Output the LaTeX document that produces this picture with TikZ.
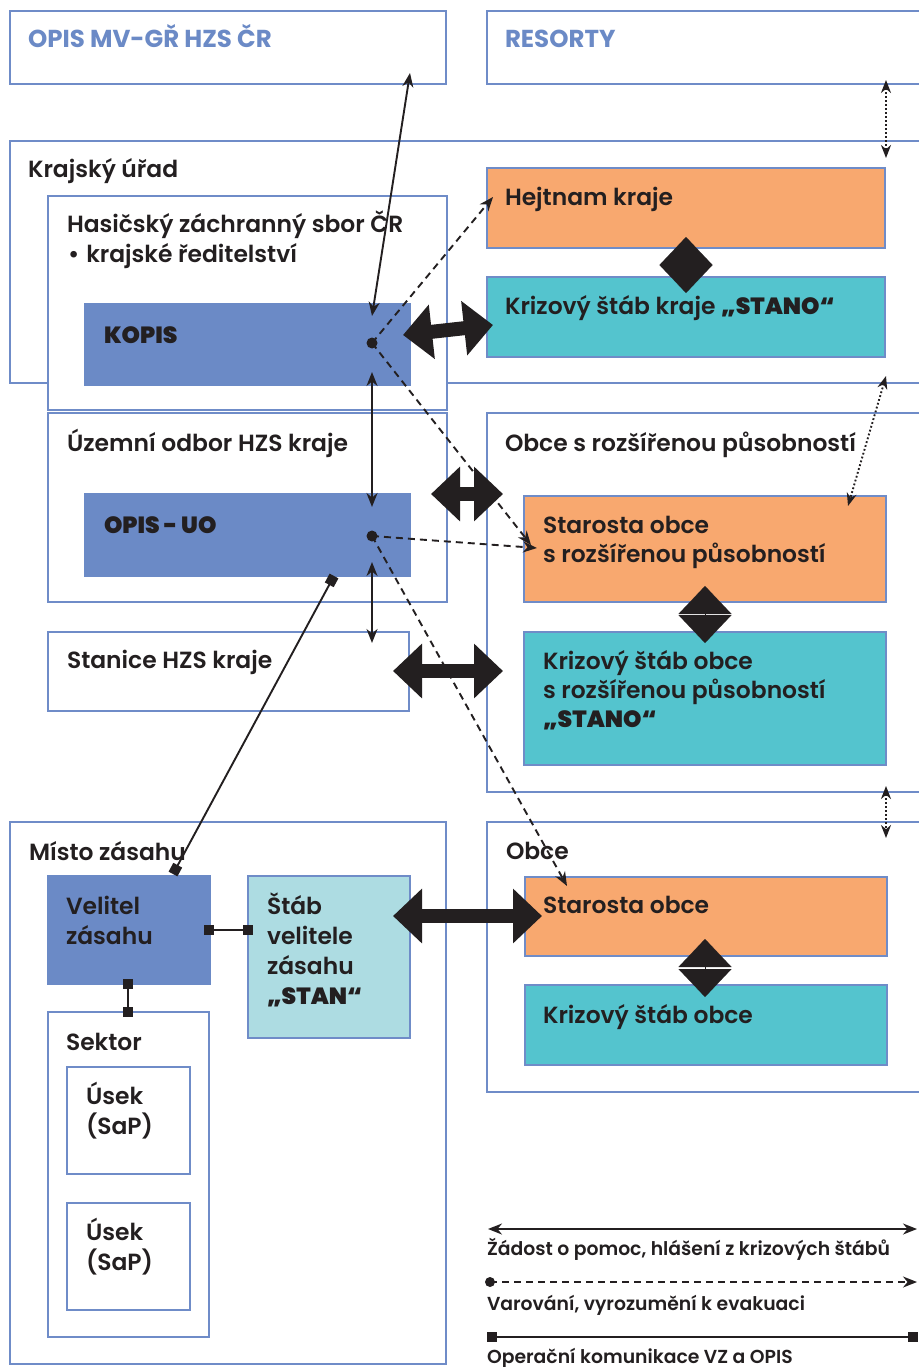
\documentclass[tikz,border=0pt]{standalone}
\usepackage{fontspec}
\IfFontExistsTF{Poppins SemiBold}{\setmainfont{Poppins}[BoldFont={Poppins SemiBold}]}{\setmainfont{Poppins}}
\IfFontExistsTF{Poppins ExtraBold}{\newfontfamily\heavyf{Poppins ExtraBold}}{\newfontfamily\heavyf{Poppins}[UprightFont={* Bold}]}
\IfFontExistsTF{Poppins Bold}{\newfontfamily\headf{Poppins Bold}}{\newcommand\headf{\bfseries}}
\usetikzlibrary{arrows.meta}
\definecolor{bblue}{HTML}{6F8CC8}
\definecolor{kblue}{HTML}{6B8AC6}
\definecolor{orng}{HTML}{F8A86F}
\definecolor{teal}{HTML}{54C4CE}
\definecolor{lcyan}{HTML}{ADDCE2}
\definecolor{dk}{HTML}{231F20}
\newcommand\bx[6]{\node[#2, minimum width={(#5-#3)*1pt}, minimum height={(#6-#4)*1pt}] (#1) at (#3,#4) {};}
\newcommand\vl[2]{\vtop{\baselineskip=#1\lineskiplimit=-100pt\relax #2}}
\tikzset{
  boxw/.style={draw=bblue, line width=2.5pt, fill=white, inner sep=0pt, outer sep=0pt, anchor=north west},
  boxb/.style={boxw, fill=kblue, draw=kblue},
  boxo/.style={boxw, fill=orng},
  boxt/.style={boxw, fill=teal},
  boxc/.style={boxw, fill=lcyan},
  txt/.style={anchor=base west, inner sep=0pt, outer sep=0pt, text=dk, font=\fontsize{23.4}{29}\selectfont\bfseries},
  htxt/.style={txt, text=kblue, font=\fontsize{24.5}{29}\selectfont\headf},
  lgd/.style={txt, font=\fontsize{18.8}{20}\selectfont\bfseries},
  thinarr/.style={draw=dk, line width=1.9pt, {Stealth[length=14pt,width=11pt]}-{Stealth[length=14pt,width=11pt]}},
  warn/.style={draw=dk, line width=1.9pt, dash pattern=on 7pt off 5pt, -{Stealth[length=14pt,width=11pt]}},
  dotarr/.style={draw=dk, line width=1.9pt, dash pattern=on 1.8pt off 2.2pt, {Stealth[length=13pt,width=10pt]}-{Stealth[length=13pt,width=10pt]}},
  opc/.style={draw=dk, line width=1.9pt, {Square[length=10pt,width=10pt]}-{Square[length=10pt,width=10pt]}},
  fat/.style={draw=dk, line width=14pt, {Triangle[length=29pt,width=53pt]}-{Triangle[length=29pt,width=53pt]}},
  diam/.style={draw=dk, line width=0.1pt, {Triangle[length=28pt,width=53pt]}-{Triangle[length=28pt,width=53pt]}},
}
\begin{document}
\begin{tikzpicture}[x=1pt,y=-1pt]
\useasboundingbox[fill=white] (0,0) rectangle (918,1367);
% boxes
\bx{opis}{boxw}{10}{11}{446}{84}
\bx{resorty}{boxw}{487}{11}{935}{84}
\bx{kraj}{boxw}{10}{141}{935}{383}
\bx{hzs}{boxw}{48}{196}{447}{410}
\bx{kopis}{boxb}{85}{304}{410}{385}
\bx{hejtman}{boxo}{487}{168}{885}{248}
\bx{kskraje}{boxt}{487}{277}{885}{357}
\bx{uzemni}{boxw}{48}{413}{447}{602}
\bx{opisuo}{boxb}{85}{494}{410}{576}
\bx{stanice}{boxw}{48}{632}{409}{711}
\bx{orp}{boxw}{487}{413}{935}{792}
\bx{starorp}{boxo}{524}{496}{886}{602}
\bx{ksorp}{boxt}{524}{632}{886}{765}
\bx{misto}{boxw}{10}{822}{446}{1364}
\bx{velitel}{boxb}{48}{876}{210}{984}
\bx{stab}{boxc}{248}{876}{410}{1038}
\bx{sektor}{boxw}{48}{1012}{209}{1337}
\bx{usek1}{boxw}{67}{1067}{190}{1174}
\bx{usek2}{boxw}{67}{1203}{190}{1310}
\bx{obce}{boxw}{487}{822}{935}{1092}
\bx{starosta}{boxo}{525}{877}{887}{956}
\bx{ksobce}{boxt}{525}{985}{887}{1065}
% texts
\node[htxt] (t1) at (28,48) {OPIS MV-GŘ HZS ČR};
\node[htxt] (t2) at (505,48) {RESORTY};
\node[txt] (t3) at (28,178) {Krajský úřad};
\node[txt] (t4) at (67,233) {Hasičský záchranný sbor ČR};
\node[txt] (t5) at (68,262) {•\hspace{0.3em}krajské ředitelství};
\node[txt] (t6) at (104,343) {\heavyf KOPIS};
\node[txt] (t7) at (505,205) {Hejtnam kraje};
\node[txt] (t8) at (505,314) {Krizový štáb kraje {\heavyf „STANO“}};
\node[txt] (t9) at (67,451) {Územní odbor HZS kraje};
\node[txt] (t10) at (104,533) {\heavyf OPIS - UO};
\node[txt] (t11) at (505,451) {Obce s rozšířenou působností};
\node[txt] (t12) at (543,533) {\vl{29pt}{\hbox{Starosta obce}\hbox{s rozšířenou působností}}};
\node[txt] (t13) at (67,668) {Stanice HZS kraje};
\node[txt] (t14) at (543,669) {\vl{29pt}{\hbox{Krizový štáb obce}\hbox{s rozšířenou působností}\hbox{\heavyf „STANO“}}};
\node[txt] (t15) at (29,860) {Místo zásahu};
\node[txt] (t16) at (506,859) {Obce};
\node[txt] (t17) at (66,914) {\vl{30pt}{\hbox{Velitel}\hbox{zásahu}}};
\node[txt] (t18) at (267,914) {\vl{30pt}{\hbox{Štáb}\hbox{velitele}\hbox{zásahu}\hbox{\heavyf „STAN“}}};
\node[txt] (t19) at (543,913) {Starosta obce};
\node[txt] (t20) at (543,1023) {Krizový štáb obce};
\node[txt] (t21) at (66,1050) {Sektor};
\node[txt] (t22) at (86,1104) {\vl{30pt}{\hbox{Úsek}\hbox{(SaP)}}};
\node[txt] (t23) at (86,1240) {\vl{30pt}{\hbox{Úsek}\hbox{(SaP)}}};
\node[lgd] (t24) at (487,1255) {Žádost o pomoc, hlášení z krizových štábů};
\node[lgd] (t25) at (487,1310) {Varování, vyrozumění k evakuaci};
\node[lgd] (t26) at (487,1363) {Operační komunikace VZ a OPIS};
% connector coordinates
\coordinate (kdot) at (372,343);
\coordinate (udot) at (372,536);
\coordinate (a1) at (410,73);  \coordinate (a2) at (372,316);
\coordinate (b1) at (372,372); \coordinate (b2) at (372,507);
\coordinate (c1) at (372,562); \coordinate (c2) at (372,643);
\coordinate (o1) at (334,576); \coordinate (o2) at (173,874);
\coordinate (o3) at (204,930); \coordinate (o4) at (253,930);
\coordinate (o5) at (128,979); \coordinate (o6) at (128,1017);
\coordinate (w1) at (493,197); \coordinate (w2) at (531,545);
\coordinate (w3) at (537,548); \coordinate (w4) at (567,886);
\coordinate (d1) at (886,80);  \coordinate (d2) at (886,158);
\coordinate (d3) at (886,376); \coordinate (d4) at (848,506);
\coordinate (d5) at (886,786); \coordinate (d6) at (886,838);
\coordinate (f1) at (403,335); \coordinate (f2) at (493,325);
\coordinate (f3) at (431,494); \coordinate (f4) at (503,494);
\coordinate (f5) at (393,671); \coordinate (f6) at (503,671);
\coordinate (f7) at (393,916); \coordinate (f8) at (542,916);
\coordinate (m1) at (686,237); \coordinate (m2) at (686,293);
\coordinate (m3) at (705,586); \coordinate (m4) at (705,643);
\coordinate (m5) at (705,939); \coordinate (m6) at (705,997);
\coordinate (l1) at (488,1229); \coordinate (l2) at (917,1229);
\coordinate (l3) at (490,1282); \coordinate (l4) at (917,1282);
\coordinate (l5) at (487,1337); \coordinate (l6) at (918,1337);
% connectors
\draw[thinarr] (a1) -- (a2);
\draw[thinarr] (b1) -- (b2);
\draw[thinarr] (c1) -- (c2);
\draw[opc] (o1) -- (o2);
\draw[opc] (o3) -- (o4);
\draw[opc] (o5) -- (o6);
\draw[warn] (kdot) -- (w1);
\draw[warn] (kdot) -- (w2);
\draw[warn] (udot) -- (w3);
\draw[warn] (udot) -- (w4);
\fill[dk] (kdot) circle[radius=5.5];
\fill[dk] (udot) circle[radius=5.5];
\draw[dotarr] (d1) -- (d2);
\draw[dotarr] (d3) -- (d4);
\draw[dotarr] (d5) -- (d6);
\draw[fat] (f1) -- (f2);
\draw[fat] (f3) -- (f4);
\draw[fat] (f5) -- (f6);
\draw[fat] (f7) -- (f8);
\draw[diam] (m1) -- (m2);
\draw[diam] (m3) -- (m4);
\draw[diam] (m5) -- (m6);
% legend
\draw[thinarr] (l1) -- (l2);
\draw[warn] (l3) -- (l4);
\fill[dk] (l3) circle[radius=5];
\draw[opc] (l5) -- (l6);
\end{tikzpicture}
\end{document}
